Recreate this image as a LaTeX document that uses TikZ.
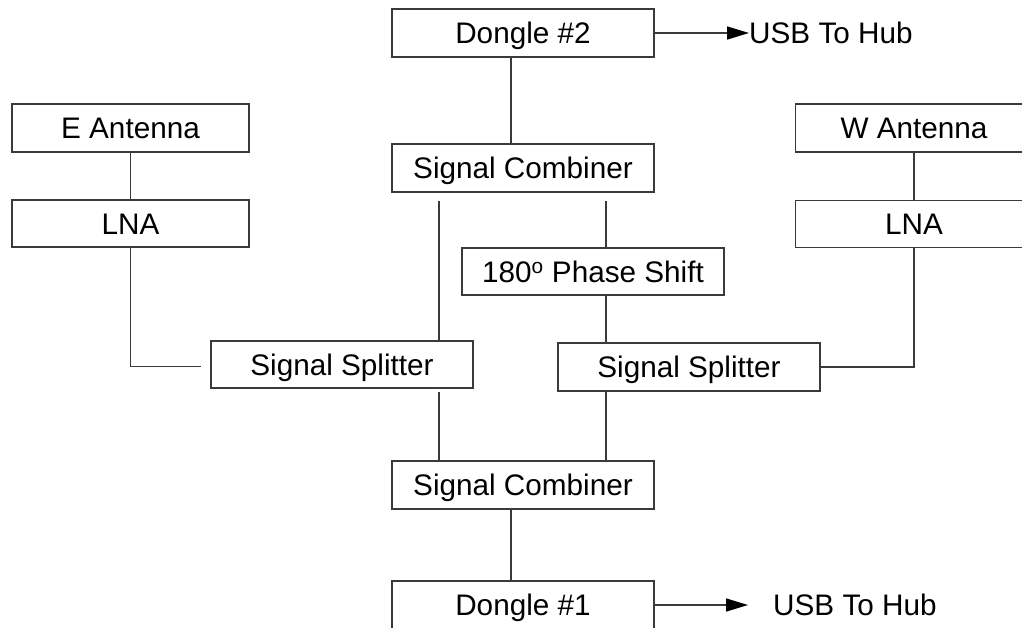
\documentclass[tikz,border=0pt]{standalone}
\usepackage{fontspec}
\setmainfont{Liberation Sans}
\usetikzlibrary{arrows.meta}
\definecolor{linegray}{HTML}{3A3A3A}
\tikzset{
  box/.style={draw=linegray, line width=1.5pt, fill=white, minimum width=262pt, minimum height=48pt,
    inner sep=0pt, text height=21.2pt, text depth=0pt, font=\fontsize{29.7}{34}\selectfont},
  abox/.style={box, minimum width=237pt},
  conn/.style={draw=linegray, line width=1.5pt},
  arr/.style={conn, -{Triangle[length=22pt,width=13pt,color=black]}},
  lbl/.style={inner sep=0pt, anchor=west, font=\fontsize{29.7}{34}\selectfont}
}
\begin{document}
\begin{tikzpicture}[x=1pt,y=-1pt]
\useasboundingbox (0,0) rectangle (1022,627);
\clip (0,0) rectangle (1022,627);
\node[box] (d2) at (523,33) {Dongle \#2};
\node[box] (c1) at (523,168) {Signal Combiner};
\node[abox] (ea) at (130.5,128) {E Antenna};
\node[abox, minimum height=47pt] (elna) at (130.5,223.5) {LNA};
\node[abox] (wa) at (914,128) {W Antenna};
\node[abox, minimum height=47pt] (wlna) at (914,224) {LNA};
\node[box, minimum height=47pt] (ps) at (593,271.5) {180\textsuperscript{o} Phase Shift};
\node[box, minimum height=47pt] (s1) at (342,364.5) {Signal Splitter};
\node[box] (s2) at (689,367) {Signal Splitter};
\node[box] (c2) at (523,485) {Signal Combiner};
\node[box] (d1) at (523,605) {Dongle \#1};
\node[lbl] (usb2) at (749,33) {USB To Hub};
\node[lbl] (usb1) at (773,605) {USB To Hub};
% connectors
\draw[conn] ([xshift=-12pt]d2.south) -- ([xshift=-12pt]c1.north);
\draw[conn] (ea.south) -- (elna.north);
\draw[conn] (wa.south) -- (wlna.north);
\draw[conn] (elna.south) |- ([xshift=-9pt,yshift=-2pt]s1.west);
\draw[conn] (wlna.south) |- (s2.east);
\draw[conn] ([xshift=-84pt,yshift=-8pt]c1.south) -- ([xshift=97pt,yshift=-2pt]s1.north);
\draw[conn] ([xshift=83pt,yshift=-8pt]c1.south) -- ([xshift=13pt]ps.north);
\draw[conn] ([xshift=13pt]ps.south) -- ([xshift=-83pt]s2.north);
\draw[conn] ([xshift=97pt,yshift=-3pt]s1.south) -- ([xshift=-84pt]c2.north);
\draw[conn] ([xshift=-83pt]s2.south) -- ([xshift=83pt]c2.north);
\draw[conn] ([xshift=-12pt]c2.south) -- ([xshift=-12pt]d1.north);
\draw[arr] (d2.east) -- (usb2.west);
\draw[arr] (d1.east) -- ([xshift=-25pt]usb1.west);
\end{tikzpicture}
\end{document}
